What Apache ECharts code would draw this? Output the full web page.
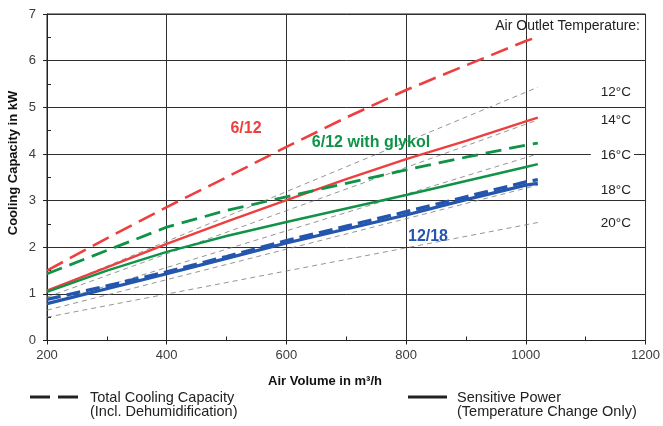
<!DOCTYPE html>
<html>
<head>
<meta charset="utf-8">
<title>Cooling Capacity vs Air Volume</title>
<script src="https://cdn.jsdelivr.net/npm/echarts@6/dist/echarts.min.js"></script>
<style>
  html, body { margin: 0; padding: 0; background: #fff; }
  #chart { width: 663px; height: 426px; }
</style>
</head>
<body>
<div id="chart"></div>
<script>
// Air volume sample points (m³/h) for the capacity curves
const airVolume = [200, 300, 400, 500, 600, 700, 800, 900, 1000, 1020];

// Cooling capacity in kW — dashed = total, solid = sensible
const total612       = [1.50, 2.19, 2.86, 3.50, 4.15, 4.78, 5.37, 5.90, 6.42, 6.51];
const sensible612    = [1.07, 1.57, 2.07, 2.55, 3.01, 3.46, 3.89, 4.28, 4.70, 4.78];
const totalGlykol    = [1.43, 1.93, 2.43, 2.79, 3.08, 3.37, 3.66, 3.93, 4.19, 4.23];
const sensibleGlykol = [1.04, 1.50, 1.90, 2.24, 2.54, 2.83, 3.12, 3.42, 3.72, 3.78];
const total1218      = [0.88, 1.17, 1.47, 1.80, 2.14, 2.45, 2.76, 3.08, 3.40, 3.45];
const sensible1218   = [0.79, 1.11, 1.43, 1.76, 2.09, 2.39, 2.69, 3.02, 3.33, 3.37];

// Air outlet temperature reference lines (start / end of the air volume range)
const outletVolume = [200, 1020];
const outletTemps  = ['12°C', '14°C', '16°C', '18°C', '20°C'];
const outlet12 = [1.06, 5.43];
const outlet14 = [0.93, 4.73];
const outlet16 = [0.78, 4.00];
const outlet18 = [0.65, 3.33];
const outlet20 = [0.50, 2.53];

// Axis ticks
const xTicks = { min: 200, max: 1200, step: 200 };
const yTicks = { min: 0, max: 7, step: 1 };

const FONT = '"Liberation Sans", Arial, Helvetica, sans-serif';
const RED = '#ee3f3f';
const GREEN = '#0f9447';
const BLUE = '#2456ae';
const GRAY = '#7a7a7a';

function pairs(xs, ys) { return xs.map((x, i) => [x, ys[i]]); }

function curve(name, ys, color, dashed, width) {
  return {
    name, type: 'line', data: pairs(airVolume, ys), symbol: 'none',
    silent: true, z: 3,
    lineStyle: { color, width, type: dashed || 'solid', cap: 'butt' }
  };
}

function outletLine(name, ys) {
  return {
    name, type: 'line', data: pairs(outletVolume, ys), symbol: 'none',
    silent: true, z: 2,
    lineStyle: { color: GRAY, width: 0.8, type: [5, 4] }
  };
}

const chart = echarts.init(document.getElementById('chart'), null, { renderer: 'canvas' });

const tempLabelY = [92.5, 120, 155, 190, 223];
const plainNumber = v => String(v);

chart.setOption({
  animation: false,
  backgroundColor: '#ffffff',
  textStyle: { fontFamily: FONT },
  grid: {
    left: 47, right: 16, top: 14, bottom: 85.5,
    show: true, borderColor: '#222', borderWidth: 1, backgroundColor: 'transparent'
  },
  xAxis: {
    type: 'value', min: xTicks.min, max: xTicks.max, interval: xTicks.step,
    axisLine: { show: true, lineStyle: { color: '#222', width: 1 } },
    axisTick: { show: true, length: 4, lineStyle: { color: '#222' } },
    minorTick: { show: true, splitNumber: 2, length: -4, lineStyle: { color: '#222' } },
    axisLabel: { color: '#3c3c3c', fontSize: 13, margin: 8, fontFamily: FONT, formatter: plainNumber },
    splitLine: { show: true, lineStyle: { color: '#2e2e2e', width: 1 } }
  },
  yAxis: {
    type: 'value', min: yTicks.min, max: yTicks.max, interval: yTicks.step,
    axisLine: { show: true, lineStyle: { color: '#222', width: 1 } },
    axisTick: { show: true, length: 4, lineStyle: { color: '#222' } },
    minorTick: { show: true, splitNumber: 2, length: -4, lineStyle: { color: '#222' } },
    axisLabel: { color: '#3c3c3c', fontSize: 13, margin: 11, fontFamily: FONT, formatter: plainNumber },
    splitLine: { show: true, lineStyle: { color: '#2e2e2e', width: 1 } }
  },
  series: [
    outletLine('12°C', outlet12),
    outletLine('14°C', outlet14),
    outletLine('16°C', outlet16),
    outletLine('18°C', outlet18),
    outletLine('20°C', outlet20),
    curve('6/12 total', total612, RED, [18, 8], 2.6),
    curve('6/12 sensible', sensible612, RED, 'solid', 2.4),
    curve('6/12 with glykol total', totalGlykol, GREEN, [16, 8], 2.8),
    curve('6/12 with glykol sensible', sensibleGlykol, GREEN, 'solid', 2.4),
    curve('12/18 total', total1218, BLUE, [14, 6], 3.4),
    curve('12/18 sensible', sensible1218, BLUE, 'solid', 3.2)
  ],
  graphic: [
    // axis titles
    { type: 'text', x: 13, y: 163, rotation: Math.PI / 2, z: 10,
      style: { text: 'Cooling Capacity in kW', font: 'bold 13px ' + FONT, fill: '#111',
               align: 'center', verticalAlign: 'middle' } },
    { type: 'text', x: 325, y: 381, z: 10,
      style: { text: 'Air Volume in m³/h', font: 'bold 13px ' + FONT, fill: '#111',
               align: 'center', verticalAlign: 'middle' } },
    // curve labels
    { type: 'text', x: 246, y: 129, z: 10,
      style: { text: '6/12', font: 'bold 16px ' + FONT, fill: RED, align: 'center', verticalAlign: 'middle' } },
    { type: 'text', x: 371, y: 143, z: 10,
      style: { text: '6/12 with glykol', font: 'bold 16px ' + FONT, fill: GREEN, align: 'center', verticalAlign: 'middle' } },
    { type: 'text', x: 428, y: 237, z: 10,
      style: { text: '12/18', font: 'bold 16px ' + FONT, fill: BLUE, align: 'center', verticalAlign: 'middle' } },
    // outlet temperature column
    { type: 'text', x: 640, y: 26.5, z: 10,
      style: { text: 'Air Outlet Temperature:', font: '14px ' + FONT, fill: '#222',
               align: 'right', verticalAlign: 'middle' } },
    ...outletTemps.map((t, i) => ({
      type: 'text', x: 634, y: tempLabelY[i], z: 10,
      style: { text: t, font: '13.5px ' + FONT, fill: '#222', align: 'right', verticalAlign: 'middle',
               backgroundColor: '#fff', padding: [2, 3, 2, 10] }
    })),
    // legend
    { type: 'line', z: 10, shape: { x1: 30, y1: 397, x2: 50, y2: 397 }, style: { stroke: '#222', lineWidth: 3 } },
    { type: 'line', z: 10, shape: { x1: 58, y1: 397, x2: 78, y2: 397 }, style: { stroke: '#222', lineWidth: 3 } },
    { type: 'text', x: 90, y: 397.5, z: 10,
      style: { text: 'Total Cooling Capacity', font: '14.5px ' + FONT, fill: '#222', verticalAlign: 'middle' } },
    { type: 'text', x: 90, y: 412, z: 10,
      style: { text: '(Incl. Dehumidification)', font: '14.5px ' + FONT, fill: '#222', verticalAlign: 'middle' } },
    { type: 'line', z: 10, shape: { x1: 408, y1: 397, x2: 447, y2: 397 }, style: { stroke: '#222', lineWidth: 3 } },
    { type: 'text', x: 457, y: 397.5, z: 10,
      style: { text: 'Sensitive Power', font: '14.5px ' + FONT, fill: '#222', verticalAlign: 'middle' } },
    { type: 'text', x: 457, y: 412, z: 10,
      style: { text: '(Temperature Change Only)', font: '14.5px ' + FONT, fill: '#222', verticalAlign: 'middle' } }
  ]
});
</script>
</body>
</html>
